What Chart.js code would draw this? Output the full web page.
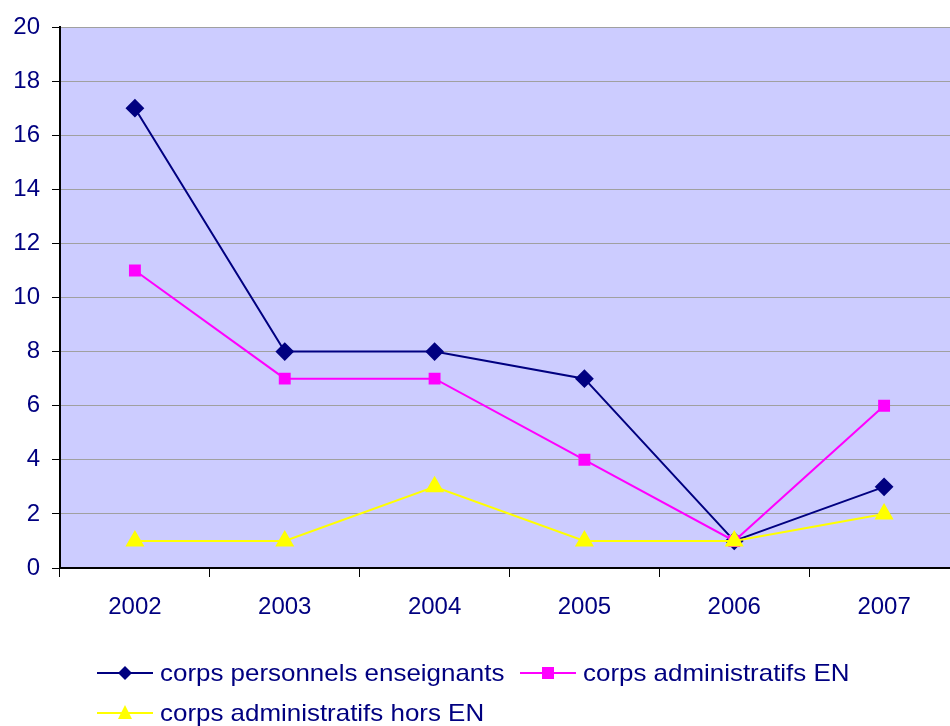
<!DOCTYPE html>
<html>
<head>
<meta charset="utf-8">
<script src="https://cdn.jsdelivr.net/npm/chart.js@4.4.0/dist/chart.umd.min.js"></script>
<style>
    body { margin: 0; overflow: hidden; background: #fff; }
    #wrap { position: relative; width: 950px; height: 726px; overflow: hidden; }
    #chart { position: absolute; left: 0; top: 0; }
    .leg { position: absolute; display: flex; align-items: center; font-family: "Liberation Sans", Arial, sans-serif; font-size: 24px; color: #000080; white-space: nowrap; }
    .leg svg { margin-right: 7px; }
    .leg span { display: inline-block; transform: scaleX(1.08); transform-origin: left center; }
</style>
</head>
<body>
<div id="wrap">
    <canvas id="chart" width="970" height="726"></canvas>
    <div class="leg" style="left:97px; top:658px;">
        <svg width="56" height="30"><line x1="0" y1="15" x2="56" y2="15" stroke="#000080" stroke-width="2"/><polygon points="28,8 35,15 28,22 21,15" fill="#000080"/></svg>
        <span id="l0"></span>
    </div>
    <div class="leg" style="left:520px; top:658px;">
        <svg width="56" height="30"><line x1="0" y1="15" x2="56" y2="15" stroke="#FF00FF" stroke-width="2"/><rect x="22" y="9" width="12" height="12" fill="#FF00FF"/></svg>
        <span id="l1"></span>
    </div>
    <div class="leg" style="left:97px; top:698px;">
        <svg width="56" height="30"><line x1="0" y1="15" x2="56" y2="15" stroke="#FFFF00" stroke-width="2"/><polygon points="28,7 35,21 21,21" fill="#FFFF00"/></svg>
        <span id="l2"></span>
    </div>
</div>
<script>
// valeurs
var annees = ['2002', '2003', '2004', '2005', '2006', '2007'];
var noms = ['corps personnels enseignants', 'corps administratifs EN', 'corps administratifs hors EN'];
var enseignants = [17, 8, 8, 7, 1, 3];
var adminEN = [11, 7, 7, 4, 1, 6];
var adminHorsEN = [1, 1, 3, 1, 1, 2];
var yTicks = [0, 2, 4, 6, 8, 10, 12, 14, 16, 18, 20];

document.getElementById('l0').textContent = noms[0];
document.getElementById('l1').textContent = noms[1];
document.getElementById('l2').textContent = noms[2];

// fond lavande de la zone de tracé
var fondPlot = {
    id: 'fondPlot',
    beforeDraw: function(chart) {
        var a = chart.chartArea, ctx = chart.ctx;
        ctx.save();
        ctx.fillStyle = '#CCCCFF';
        ctx.fillRect(a.left, a.top, a.right - a.left, a.bottom - a.top);
        ctx.restore();
    }
};

var police = { family: '"Liberation Sans", Arial, sans-serif', size: 24 };

var ctx = document.getElementById('chart').getContext('2d');
new Chart(ctx, {
    type: 'line',
    data: {
        labels: annees,
        datasets: [{
            label: noms[0],
            data: enseignants,
            borderColor: '#000080',
            backgroundColor: '#000080',
            borderWidth: 2,
            pointStyle: 'rectRot',
            pointRadius: 8,
            tension: 0,
            order: 2
        }, {
            label: noms[1],
            data: adminEN,
            borderColor: '#FF00FF',
            backgroundColor: '#FF00FF',
            borderWidth: 2,
            pointStyle: 'rect',
            pointRadius: 7,
            tension: 0,
            order: 1
        }, {
            label: noms[2],
            data: adminHorsEN,
            borderColor: '#FFFF00',
            backgroundColor: '#FFFF00',
            borderWidth: 2,
            pointStyle: 'triangle',
            pointRadius: 9,
            tension: 0,
            order: 0
        }]
    },
    options: {
        responsive: false,
        animation: false,
        layout: { padding: { top: 27, right: 10, left: 0, bottom: 0 } },
        plugins: {
            legend: { display: false },
            tooltip: { enabled: false }
        },
        scales: {
            x: {
                offset: true,
                grid: { offset: true, drawOnChartArea: false, tickLength: 9, tickColor: '#000', color: '#000' },
                border: { color: '#000', width: 2 },
                ticks: { color: '#000080', font: police, padding: 16, maxRotation: 0 },
                afterFit: function(s) { s.height = 158; }
            },
            y: {
                min: 0,
                max: 20,
                afterBuildTicks: function(s) { s.ticks = yTicks.map(function(v) { return { value: v }; }); },
                grid: { color: '#A0A0A0', lineWidth: 1, tickLength: 8, tickColor: '#000' },
                border: { color: '#000', width: 2 },
                ticks: { color: '#000080', font: police, padding: 12 },
                afterFit: function(s) { s.width = 60; }
            }
        }
    },
    plugins: [fondPlot]
});
</script>
</body>
</html>
